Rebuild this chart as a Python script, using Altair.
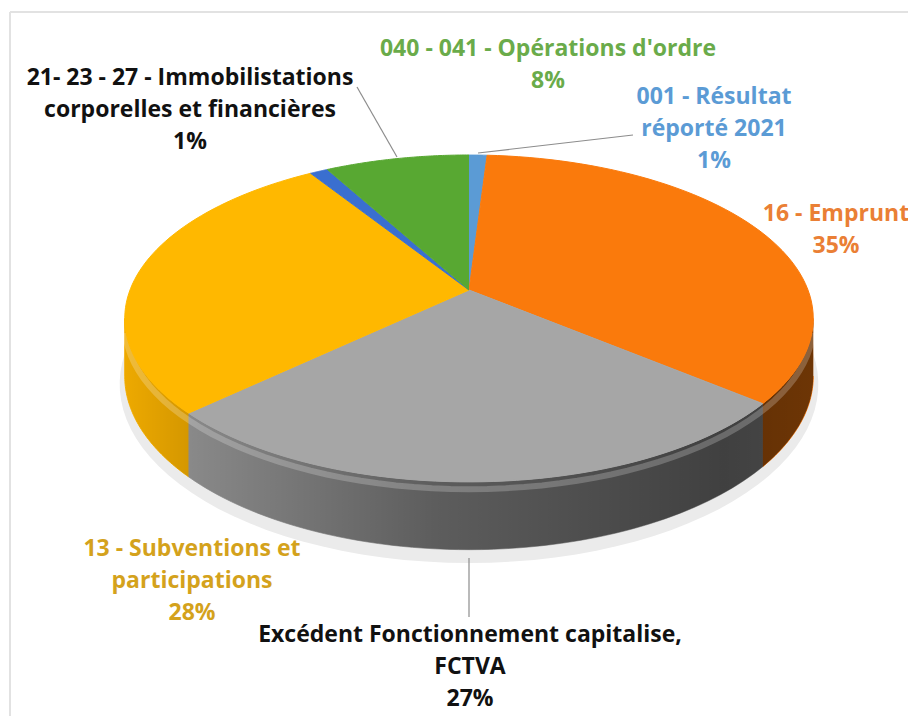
import altair as alt
import pandas as pd

# ---------------- data ----------------
labels = [
    "001 - Résultat réporté 2021",
    "16 - Emprunt",
    "Excédent Fonctionnement capitalise, FCTVA",
    "13 - Subventions et participations",
    "21- 23 - 27 - Immobilistations corporelles et financières",
    "040 - 041 - Opérations d'ordre",
]
shares = [1, 35, 27, 28, 1, 8]
label_lines = [
    ["001 - Résultat", "réporté 2021"],
    ["16 - Emprunt"],
    ["Excédent Fonctionnement capitalise,", "FCTVA"],
    ["13 - Subventions et", "participations"],
    ["21- 23 - 27 - Immobilistations", "corporelles et financières"],
    ["040 - 041 - Opérations d'ordre"],
]

# ---------------- layout / style ----------------
W, H = 900, 708
CX, CY, RX, RY, DEPTH, K = 469, 290, 339, 158.5, 56, 0.174
N = 60
face_colors = ["#5b9bd5", "#fa7a0c", "#a6a6a6", "#ffb800", "#3a6fd0", "#58a832"]
side_colors = ["#5b9bd5", "#f2760c", "#a0a0a0", "#f7b000", "#3a6fd0", "#58a832"]
text_colors = ["#5b9bd5", "#ea7f35", "#111111", "#d4a21c", "#111111", "#6aab4a"]
label_x = [714, 836, 470, 192, 190, 548]
label_y = [104, 221, 642, 556, 85, 56]
label_lh = 32
leaders = {  # label index -> (x0, y0, x1, y1)
    4: (357, 87, 397, 157),
    0: (633, 135, 478, 153),
    2: (469, 558, 469, 617),
}

df = pd.DataFrame({"label": labels, "pct": shares, "ord": list(range(len(labels)))})

xs = alt.Scale(domain=[8, 8 + W], nice=False, zero=False)
ys = alt.Scale(domain=[8, 8 + H], nice=False, zero=False, reverse=True)

S = f"(1 / (1 + {K} * cos(datum.ang)))"
PX = f"{CX} + {RX} * sin(datum.ang) * {S}"
PY = f"{CY} + (datum.off - {RY} * cos(datum.ang)) * {S}"
AMIN = f"acos(-{K})"
AMAX = f"(2 * PI - acos(-{K}))"


def base_slices():
    return alt.Chart(df).transform_window(
        cum="sum(pct)", sort=[alt.SortField("ord", order="ascending")], frame=[None, 0]
    ).transform_calculate(
        a0="(datum.cum - datum.pct) / 100 * 2 * PI",
        a1="datum.cum / 100 * 2 * PI",
    )


XY = dict(
    x=alt.X("px:Q", scale=xs, axis=None),
    y=alt.Y("py:Q", scale=ys, axis=None),
)

# shadow under the pie
shadow = alt.Chart(alt.sequence(0, 121, as_="i")).transform_calculate(
    ang="datum.i / 120 * 2 * PI", off=f"{DEPTH + 7}",
).transform_calculate(
    px=f"{CX} + {RX + 5} * sin(datum.ang) * {S}",
    py=f"{CY} + (datum.off - {RY + 4} * cos(datum.ang)) * {S}",
).mark_line(filled=True, fill="#ebebeb", strokeWidth=0).encode(order="i:Q", **XY)

# side walls (visible front part only)
sides = base_slices().transform_calculate(
    s0=f"max(datum.a0, {AMIN})",
    s1=f"min(datum.a1, {AMAX})",
).transform_filter("datum.s1 > datum.s0").transform_calculate(
    idx=f"sequence(0, {2 * N + 2})"
).transform_flatten(["idx"]).transform_calculate(
    t=f"datum.idx <= {N} ? datum.idx / {N} : ({2 * N + 1} - datum.idx) / {N}",
    off=f"datum.idx <= {N} ? 0 : {DEPTH}",
).transform_calculate(
    ang="datum.s0 + (datum.s1 - datum.s0) * datum.t",
).transform_calculate(px=PX, py=PY).mark_line(filled=True, strokeWidth=1).encode(
    color=alt.Color("label:N", scale=alt.Scale(domain=labels, range=side_colors), legend=None),
    stroke=alt.Stroke("label:N", scale=alt.Scale(domain=labels, range=side_colors), legend=None),
    order="idx:Q",
    **XY,
)

# shading over the side walls (light from the left)
shade_grad = alt.LinearGradient(
    gradient="linear",
    stops=[
        alt.GradientStop(color="rgba(0,0,0,0.04)", offset=0),
        alt.GradientStop(color="rgba(0,0,0,0.15)", offset=0.1),
        alt.GradientStop(color="rgba(0,0,0,0.42)", offset=0.45),
        alt.GradientStop(color="rgba(0,0,0,0.6)", offset=0.87),
        alt.GradientStop(color="rgba(0,0,0,0.55)", offset=1),
    ],
    x1=0, x2=1, y1=0, y2=0,
)
shade = alt.Chart(alt.sequence(0, 2 * N + 2, as_="idx")).transform_calculate(
    t=f"datum.idx <= {N} ? datum.idx / {N} : ({2 * N + 1} - datum.idx) / {N}",
    off=f"datum.idx <= {N} ? 0 : {DEPTH}",
).transform_calculate(
    ang=f"{AMIN} + ({AMAX} - {AMIN}) * datum.t",
).transform_calculate(px=PX, py=PY).mark_line(
    filled=True, fill=shade_grad, strokeWidth=0
).encode(order="idx:Q", **XY)

# rim highlight just under the top edge
rim = alt.Chart(alt.sequence(0, N + 1, as_="idx")).transform_calculate(
    ang=f"{AMIN} + 0.05 + ({AMAX} - {AMIN} - 0.1) * datum.idx / {N}",
    off="6",
).transform_calculate(px=PX, py=PY).mark_line(
    stroke="white", strokeWidth=6, strokeOpacity=0.22
).encode(order="idx:Q", **XY)

# top faces
tops = base_slices().transform_calculate(
    idx=f"sequence(0, {N + 2})"
).transform_flatten(["idx"]).transform_calculate(
    ang=f"datum.a0 + (datum.a1 - datum.a0) * (datum.idx - 1) / {N}",
    off="0",
).transform_calculate(
    px=f"datum.idx == 0 ? {CX} : {PX}",
    py=f"datum.idx == 0 ? {CY} : {PY}",
).mark_line(filled=True, strokeWidth=1).encode(
    color=alt.Color("label:N", scale=alt.Scale(domain=labels, range=face_colors), legend=None),
    stroke=alt.Stroke("label:N", scale=alt.Scale(domain=labels, range=face_colors), legend=None),
    order="idx:Q",
    **XY,
)

# leader lines
lead_rows = []
for k, (x0, y0, x1, y1) in leaders.items():
    lead_rows.append({"label": labels[k], "px": x0, "py": y0, "o": 0})
    lead_rows.append({"label": labels[k], "px": x1, "py": y1, "o": 1})
lead_df = pd.DataFrame(lead_rows)
leads = alt.Chart(lead_df).mark_line(stroke="#8c8c8c", strokeWidth=1.2).encode(
    detail="label:N", order="o:Q", **XY
)

# labels
txt_df = pd.DataFrame({
    "label": labels,
    "txt": ["\n".join(lines + [f"{s}%"]) for lines, s in zip(label_lines, shares)],
    "lx": label_x,
    "ly": label_y,
})
texts = alt.Chart(txt_df).mark_text(
    align="center", baseline="alphabetic", lineBreak="\n", lineHeight=label_lh,
    font="Open Sans", fontWeight="bold", fontSize=23,
).encode(
    x=alt.X("lx:Q", scale=xs, axis=None),
    y=alt.Y("ly:Q", scale=ys, axis=None),
    text="txt:N",
    color=alt.Color("label:N", scale=alt.Scale(domain=labels, range=text_colors), legend=None),
)

# light frame (top and left edges visible)
frame_top = alt.Chart(df.head(1)).mark_rule(color="#e2e2e2", strokeWidth=2).encode(
    x=alt.value(2), x2=alt.value(W), y=alt.value(4)
)
frame_left = alt.Chart(df.head(1)).mark_rule(color="#e2e2e2", strokeWidth=2).encode(
    x=alt.value(2), y=alt.value(4), y2=alt.value(H)
)

chart = alt.layer(
    shadow, sides, shade, rim, tops, leads, texts, frame_top, frame_left
).resolve_scale(
    color="independent", stroke="independent"
).properties(
    width=W, height=H, padding=0, autosize=alt.AutoSizeParams(type="none"),
    background="white",
).configure_view(strokeWidth=0)

chart.save("out.html", embed_options={"renderer": "svg", "actions": False})
